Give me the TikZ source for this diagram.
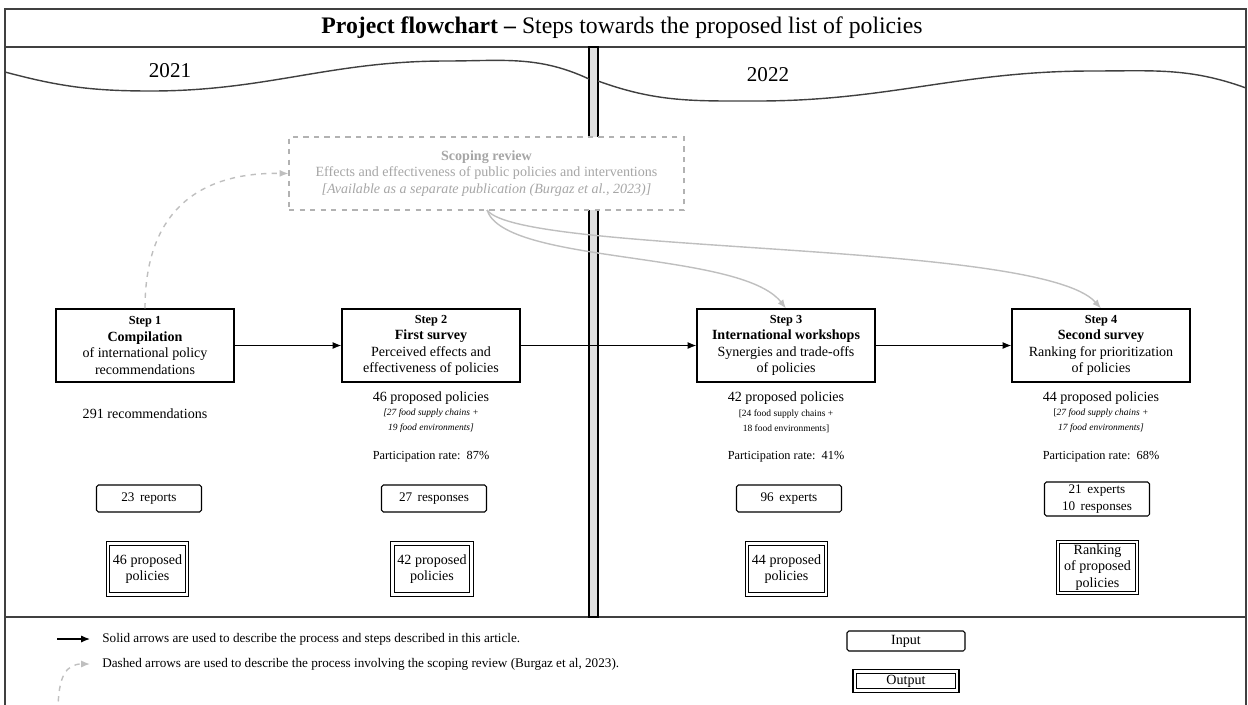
\documentclass[tikz,border=0pt]{standalone}
\usepackage{fontspec}
\setmainfont{Liberation Serif}
\usetikzlibrary{arrows.meta}

\begin{document}
\begin{tikzpicture}[x=0.02cm, y=-0.02cm,
  frame/.style={draw=black!75, line width=0.8pt},
  stepbox/.style={draw, line width=0.7pt, fill=white, align=center, minimum width=3.56cm, minimum height=1.46cm, inner sep=0pt, font=\fontsize{8}{9.4}\selectfont},
  txt/.style={align=center, inner sep=0pt, font=\fontsize{8}{9.4}\selectfont},
  note/.style={align=center, inner sep=0pt, font=\fontsize{5.4}{8.4}\selectfont},
  rate/.style={inner sep=0pt, font=\fontsize{7}{8}\selectfont},
  inbox/.style={draw, line width=0.6pt, rounded corners=1pt, align=center, minimum width=2.1cm, minimum height=0.54cm, inner sep=1pt, font=\fontsize{7.5}{9.2}\selectfont},
  outbox/.style={draw, double, double distance=1.4pt, line width=0.65pt, align=center, minimum width=1.58cm, minimum height=1.02cm, inner sep=1pt, font=\fontsize{8}{9.2}\selectfont},
  flow/.style={line width=0.7pt, -{Latex[length=5pt,width=4pt]}},
  review/.style={draw=black!25, line width=0.8pt, -{Latex[length=5pt,width=4pt]}},
  legend/.style={anchor=west, inner sep=0pt, font=\fontsize{7.5}{8.5}\selectfont}]
\useasboundingbox (0,0) rectangle (1248,704);

% Frame
\draw[frame] (5,9) rectangle (1246,720);
\draw[frame] (5,47) -- (1246,47);
\draw[frame] (5,617) -- (1246,617);
\node (title) at (622,28) {\fontsize{13.5}{15}\selectfont\textbf{Project flowchart –} Steps towards the proposed list of policies};

% Divider
\draw[line width=0.6pt, fill=black!12] (589,47) rectangle (598,617);

% Waves
\draw[black!75, line width=0.8pt] (5,72) to[out=-15,in=180] (151,91) to[out=0,in=180] (446,61) to[out=0,in=155] (589,79);
\draw[black!75, line width=0.8pt] (598,81) to[out=-20,in=180] (757,101) to[out=0,in=180] (1092,71) to[out=0,in=160] (1246,88);
\node[font=\fontsize{12}{14}\selectfont] (y1) at (170,71) {2021};
\node[font=\fontsize{12}{14}\selectfont] (y2) at (768,75) {2022};

% Scoping review
\node[draw=black!30, dashed, line width=0.7pt, fill=white, text=black!35, align=center, minimum width=7.9cm, minimum height=1.46cm, font=\fontsize{8}{9.2}\selectfont] (scope) at (486.5,173.5)
  {\textbf{Scoping review}\\Effects and effectiveness of public policies and interventions\\\textit{[Available as a separate publication (Burgaz et al., 2023)]}};

% Steps
\node[stepbox] (s1) at (145,345.5) {{\fontsize{7}{9.4}\selectfont\bfseries Step 1}\\\textbf{Compilation}\\of international policy\\recommendations};
\node[stepbox] (s2) at (431,345.5) {{\fontsize{7}{9.4}\selectfont\bfseries Step 2}\\\textbf{First survey}\\Perceived effects and\\effectiveness of policies};
\node[stepbox] (s3) at (786,345.5) {{\fontsize{7}{9.4}\selectfont\bfseries Step 3}\\\textbf{International workshops}\\Synergies and trade-offs\\of policies};
\node[stepbox] (s4) at (1101,345.5) {{\fontsize{7}{9.4}\selectfont\bfseries Step 4}\\\textbf{Second survey}\\Ranking for prioritization\\of policies};

\draw[flow] (s1) -- (s2);
\draw[flow] (s2) -- (s3);
\draw[flow] (s3) -- (s4);

% Review arrows
\coordinate (rv) at (487,210);
\draw[review, dashed] (s1.north) .. controls (145,215) and (195,172) .. (scope.west);
\draw[review] (rv) .. controls (505,265) and (740,250) .. (s3.north);
\draw[review] (rv) .. controls (520,255) and (1040,240) .. (s4.north);

% Results
\node[txt] (r1) at (145,414) {291 recommendations};
\node[txt] (r2) at (431,398) {46 proposed policies};
\node[note] (f2) at (431,421) {\textit{[27 food supply chains +}\\\textit{19 food environments]}};
\node[rate] (p2) at (431,457) {Participation rate: \,87\%};
\node[txt] (r3) at (786,398) {42 proposed policies};
\node[note] (f3) at (786,421) {[24 food supply chains +\\18 food environments]};
\node[rate] (p3) at (786,457) {Participation rate: \,41\%};
\node[txt] (r4) at (1101,398) {44 proposed policies};
\node[note] (f4) at (1101,421) {[\textit{27 food supply chains +}\\\textit{17 food environments]}};
\node[rate] (p4) at (1101,457) {Participation rate: \,68\%};

% Inputs
\node[inbox] (i1) at (149,498.5) {23 \,reports};
\node[inbox] (i2) at (434,498.5) {27 \,responses};
\node[inbox] (i3) at (789,498.5) {96 \,experts};
\node[inbox, minimum height=0.68cm] (i4) at (1097,499) {21 \,experts\\10 \,responses};

% Outputs
\node[outbox] (o1) at (147.5,569) {46 proposed\\policies};
\node[outbox] (o2) at (432,569) {42 proposed\\policies};
\node[outbox] (o3) at (786.5,569) {44 proposed\\policies};
\node[outbox] (o4) at (1097.5,567.5) {Ranking\\of proposed\\policies};

% Legend
\coordinate (ls0) at (57,639);
\coordinate (ls1) at (90,639);
\draw[flow] (ls0) -- (ls1);
\node[legend] (lt1) at (102,639) {Solid arrows are used to describe the process and steps described in this article.};
\coordinate (ld0) at (58,712);
\coordinate (ld1) at (90,664);
\draw[review, dashed] (ld0) .. controls (58,676) and (66,664) .. (ld1);
\node[legend] (lt2) at (102,664) {Dashed arrows are used to describe the process involving the scoping review (Burgaz et al, 2023).};
\node[draw, line width=0.6pt, rounded corners=1pt, minimum width=2.36cm, minimum height=0.4cm, inner sep=1pt, font=\fontsize{8}{9}\selectfont] (lin) at (906,641) {Input};
\node[outbox, minimum width=2.05cm, minimum height=0.38cm] (lout) at (906,681) {Output};
\end{tikzpicture}
\end{document}
